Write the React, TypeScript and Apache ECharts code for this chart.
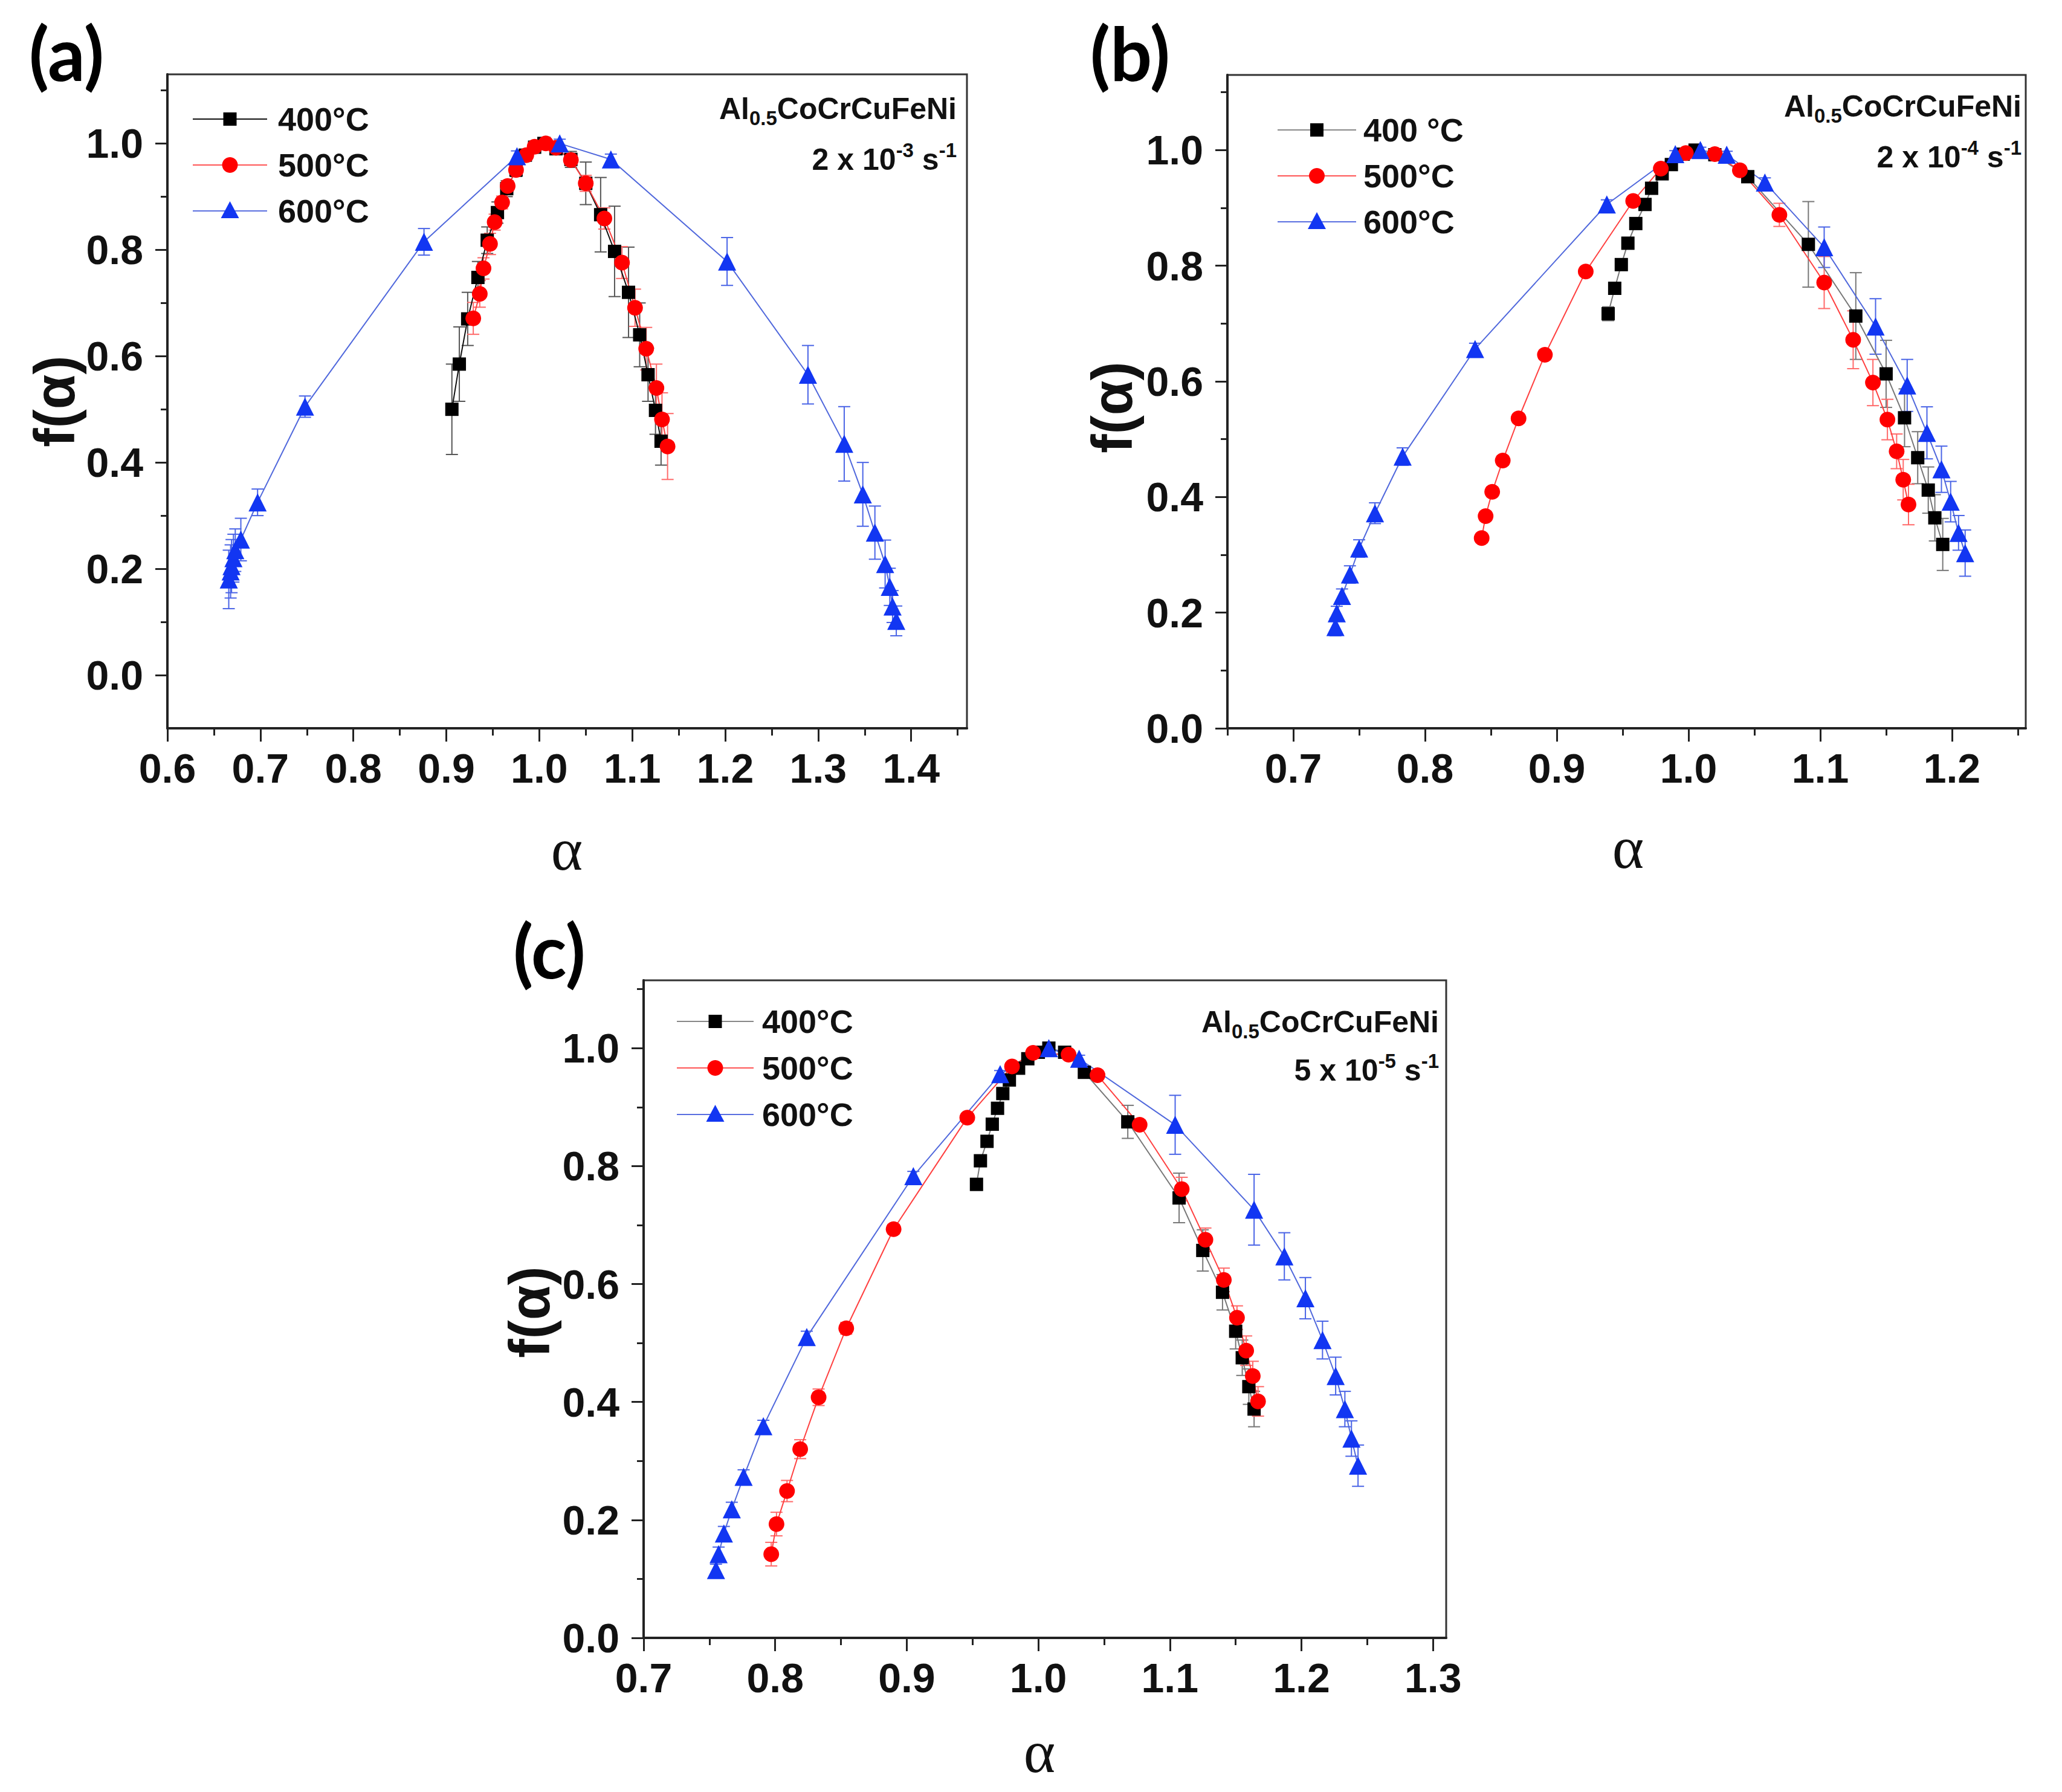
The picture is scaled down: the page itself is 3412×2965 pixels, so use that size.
import React, { useEffect, useRef } from "react";
import * as echarts from "echarts";

// ---------- data: panel (a) 2 x 10^-3 s^-1 ----------
const A_400 = [[0.906,0.500],[0.914,0.585],[0.923,0.670],[0.934,0.748],[0.944,0.818],[0.955,0.870],[0.965,0.915],[0.975,0.950],[0.985,0.978],[0.995,0.993],[1.005,1.000],[1.018,0.990],[1.034,0.970],[1.050,0.925],[1.066,0.866],[1.081,0.797],[1.096,0.720],[1.108,0.640],[1.117,0.565],[1.125,0.498],[1.131,0.440]];
const A_400_ERR = [0.085,0.07,0.05,0.03,0.025,0.02,0.015,0.012,0.01,0.008,0.008,0.01,0.015,0.04,0.07,0.085,0.085,0.06,0.05,0.045,0.045];
const A_500 = [[0.929,0.671],[0.936,0.717],[0.940,0.765],[0.947,0.811],[0.952,0.852],[0.960,0.889],[0.966,0.920],[0.975,0.950],[0.986,0.978],[0.995,0.994],[1.007,1.000],[1.018,0.992],[1.034,0.969],[1.050,0.925],[1.070,0.859],[1.089,0.776],[1.103,0.691],[1.115,0.614],[1.126,0.540],[1.132,0.481],[1.138,0.430]];
const A_500_ERR = [0.03,0.025,0.02,0.02,0.015,0.012,0.01,0.01,0.008,0.006,0.005,0.006,0.01,0.015,0.02,0.03,0.035,0.04,0.045,0.05,0.062];
const A_600 = [[0.666,0.180],[0.668,0.195],[0.669,0.205],[0.671,0.220],[0.673,0.235],[0.679,0.255],[0.697,0.325],[0.748,0.505],[0.876,0.815],[0.976,0.976],[1.022,1.000],[1.077,0.970],[1.202,0.778],[1.289,0.565],[1.328,0.435],[1.348,0.340],[1.361,0.268],[1.372,0.209],[1.377,0.166],[1.380,0.129],[1.384,0.102]];
const A_600_ERR = [0.055,0.05,0.05,0.045,0.04,0.04,0.025,0.02,0.025,0.01,0.008,0.01,0.045,0.055,0.07,0.06,0.05,0.045,0.035,0.03,0.028];

// ---------- data: panel (b) 2 x 10^-4 s^-1 ----------
const B_400 = [[0.939,0.717],[0.944,0.761],[0.949,0.802],[0.954,0.839],[0.960,0.873],[0.967,0.906],[0.972,0.934],[0.980,0.959],[0.987,0.975],[0.996,0.993],[1.005,1.000],[1.020,0.992],[1.045,0.954],[1.091,0.837],[1.127,0.713],[1.150,0.613],[1.164,0.537],[1.174,0.468],[1.182,0.412],[1.187,0.364],[1.193,0.318]];
const B_400_ERR = [0.012,0.01,0.01,0.008,0.008,0.008,0.006,0.006,0.005,0.005,0.005,0.005,0.01,0.074,0.075,0.058,0.05,0.045,0.04,0.04,0.045];
const B_500 = [[0.843,0.329],[0.846,0.367],[0.851,0.409],[0.859,0.463],[0.871,0.536],[0.891,0.646],[0.922,0.790],[0.958,0.912],[0.979,0.968],[0.998,0.995],[1.020,0.993],[1.039,0.965],[1.069,0.888],[1.103,0.771],[1.125,0.672],[1.140,0.598],[1.151,0.534],[1.158,0.479],[1.163,0.430],[1.167,0.387]];
const B_500_ERR = [0.008,0.008,0.008,0.008,0.008,0.008,0.008,0.006,0.006,0.005,0.005,0.006,0.02,0.045,0.05,0.04,0.035,0.03,0.035,0.035];
const B_600 = [[0.732,0.175],[0.733,0.199],[0.737,0.229],[0.743,0.266],[0.750,0.311],[0.762,0.372],[0.783,0.470],[0.838,0.656],[0.938,0.906],[0.990,0.993],[1.009,1.000],[1.029,0.992],[1.058,0.944],[1.103,0.832],[1.142,0.695],[1.166,0.593],[1.181,0.511],[1.192,0.448],[1.199,0.392],[1.205,0.338],[1.210,0.303]];
const B_600_ERR = [0.015,0.012,0.012,0.015,0.015,0.018,0.015,0.01,0.008,0.006,0.005,0.006,0.008,0.035,0.048,0.045,0.045,0.04,0.035,0.03,0.04];

// ---------- data: panel (c) 5 x 10^-5 s^-1 ----------
const C_400 = [[0.953,0.769],[0.956,0.809],[0.961,0.842],[0.965,0.871],[0.969,0.898],[0.973,0.923],[0.978,0.946],[0.985,0.966],[0.992,0.982],[1.000,0.993],[1.008,1.000],[1.020,0.993],[1.035,0.959],[1.068,0.875],[1.107,0.746],[1.125,0.657],[1.140,0.586],[1.150,0.520],[1.155,0.475],[1.160,0.426],[1.164,0.388]];
const C_400_ERR = [0.01,0.008,0.008,0.008,0.008,0.006,0.006,0.005,0.005,0.005,0.005,0.005,0.008,0.028,0.042,0.035,0.03,0.03,0.03,0.03,0.03];
const C_500 = [[0.797,0.142],[0.801,0.193],[0.809,0.249],[0.819,0.320],[0.833,0.408],[0.854,0.525],[0.890,0.693],[0.946,0.882],[0.980,0.969],[0.996,0.992],[1.023,0.989],[1.045,0.954],[1.077,0.870],[1.109,0.761],[1.127,0.675],[1.141,0.607],[1.151,0.543],[1.158,0.487],[1.163,0.444],[1.167,0.401]];
const C_500_ERR = [0.02,0.02,0.018,0.016,0.014,0.01,0.008,0.006,0.005,0.005,0.005,0.006,0.008,0.02,0.02,0.02,0.02,0.025,0.025,0.025];
const C_600 = [[0.755,0.115],[0.757,0.142],[0.761,0.177],[0.767,0.218],[0.776,0.273],[0.791,0.359],[0.824,0.510],[0.905,0.783],[0.971,0.956],[1.008,1.000],[1.031,0.982],[1.104,0.870],[1.164,0.726],[1.187,0.647],[1.203,0.576],[1.216,0.505],[1.226,0.444],[1.233,0.388],[1.238,0.338],[1.243,0.292]];
const C_600_ERR = [0.01,0.012,0.012,0.012,0.012,0.01,0.01,0.008,0.006,0.005,0.006,0.05,0.06,0.04,0.035,0.032,0.032,0.03,0.03,0.035];

// ---------- axes ----------
const A_X_MAJOR = [0.6,0.7,0.8,0.9,1.0,1.1,1.2,1.3,1.4];
const A_X_MINOR = [0.65,0.75,0.85,0.95,1.05,1.15,1.25,1.35,1.45];
const B_X_MAJOR = [0.7,0.8,0.9,1.0,1.1,1.2];
const B_X_MINOR = [0.65,0.75,0.85,0.95,1.05,1.15,1.25];
const C_X_MAJOR = [0.7,0.8,0.9,1.0,1.1,1.2,1.3];
const C_X_MINOR = [0.75,0.85,0.95,1.05,1.15,1.25];
const Y_MAJOR = [0.0,0.2,0.4,0.6,0.8,1.0];
const Y_MINOR = [0.1,0.3,0.5,0.7,0.9,1.1];

const LEGEND_A = ["400°C","500°C","600°C"];
const LEGEND_B = ["400 °C","500°C","600°C"];
const LEGEND_C = ["400°C","500°C","600°C"];
const RATES = [["2 x 10","-3"],["2 x 10","-4"],["5 x 10","-5"]];

const SANS = "Liberation Sans, Arial, sans-serif";
const BLACK = "#000000";
const RED = "#ff0000";
const BLUE = "#1236f2";

const panels = [
  { grid: { left: 277, top: 123, width: 1323, height: 1082 }, xMin: 0.6, xMax: 1.46, yMin: -0.1, yMax: 1.13,
    xMajor: A_X_MAJOR, xMinor: A_X_MINOR,
    s400: A_400, e400: A_400_ERR, s500: A_500, e500: A_500_ERR, s600: A_600, e600: A_600_ERR, blackLine: "#111111", blackErr: "#555555" },
  { grid: { left: 2031, top: 124, width: 1321, height: 1081 }, xMin: 0.65, xMax: 1.256, yMin: 0, yMax: 1.13,
    xMajor: B_X_MAJOR, xMinor: B_X_MINOR,
    s400: B_400, e400: B_400_ERR, s500: B_500, e500: B_500_ERR, s600: B_600, e600: B_600_ERR, blackLine: "#777777", blackErr: "#777777" },
  { grid: { left: 1065, top: 1622, width: 1328, height: 1088 }, xMin: 0.7, xMax: 1.31, yMin: 0, yMax: 1.115,
    xMajor: C_X_MAJOR, xMinor: C_X_MINOR,
    s400: C_400, e400: C_400_ERR, s500: C_500, e500: C_500_ERR, s600: C_600, e600: C_600_ERR, blackLine: "#777777", blackErr: "#777777" },
];

function errSeries(pts: number[][], err: number[], color: string, gi: number) {
  return {
    type: "custom",
    xAxisIndex: gi * 2,
    yAxisIndex: gi * 2,
    silent: true,
    z: 2,
    encode: { x: 0, y: [1, 2] },
    data: pts.map((p, k) => [p[0], p[1] - err[k], p[1] + err[k]]),
    renderItem: (params: any, api: any) => {
      const x = api.value(0);
      const p1 = api.coord([x, api.value(1)]);
      const p2 = api.coord([x, api.value(2)]);
      const cw = 10;
      const st = { stroke: color, lineWidth: 2 };
      return {
        type: "group",
        children: [
          { type: "line", shape: { x1: p1[0], y1: p1[1], x2: p2[0], y2: p2[1] }, style: st },
          { type: "line", shape: { x1: p1[0] - cw, y1: p1[1], x2: p1[0] + cw, y2: p1[1] }, style: st },
          { type: "line", shape: { x1: p2[0] - cw, y1: p2[1], x2: p2[0] + cw, y2: p2[1] }, style: st },
        ],
      };
    },
  };
}

function lineSeries(name: string, pts: number[][], symbol: string, size: number, color: string, lineColor: string, gi: number) {
  return {
    type: "line",
    name,
    xAxisIndex: gi * 2,
    yAxisIndex: gi * 2,
    data: pts,
    symbol,
    symbolSize: size,
    z: 3,
    itemStyle: { color, opacity: 1 },
    lineStyle: { color: lineColor, width: 2 },
    emphasis: { disabled: true },
  };
}

function legendGraphics(x1: number, x2: number, tx: number, rows: number[], labels: string[], blackLine: string) {
  const cx = (x1 + x2) / 2;
  const out: any[] = [];
  const lineCols = [blackLine, "#ff5555", "#5a6fe0"];
  rows.forEach((cy, i) => {
    out.push({ type: "line", shape: { x1, y1: cy, x2, y2: cy }, style: { stroke: lineCols[i], lineWidth: 2 } });
    if (i === 0) out.push({ type: "rect", shape: { x: cx - 11, y: cy - 11, width: 22, height: 22 }, style: { fill: BLACK } });
    if (i === 1) out.push({ type: "circle", shape: { cx, cy, r: 13 }, style: { fill: RED } });
    if (i === 2) out.push({ type: "polygon", shape: { points: [[cx, cy - 16], [cx + 15, cy + 12], [cx - 15, cy + 12]] }, style: { fill: BLUE } });
    out.push({ type: "text", x: tx, y: cy, style: { text: labels[i], fontSize: 54, fontWeight: "bold", fontFamily: SANS, fill: "#111", align: "left", verticalAlign: "middle" } });
  });
  return out;
}

function annotation(rx: number, y1: number, y2: number, rate: string[]) {
  const base = { fontSize: 50, fontWeight: "bold", fontFamily: SANS, fill: "#111", lineHeight: 64 };
  const small = { fontSize: 33, fontWeight: "bold", fontFamily: SANS, fill: "#111", lineHeight: 30 };
  return [
    { type: "text", x: rx, y: y1, style: { text: "{b|Al}{s|0.5}{b|CoCrCuFeNi}", align: "right", verticalAlign: "middle",
      rich: { b: base, s: { ...small, verticalAlign: "bottom" } } } },
    { type: "text", x: rx, y: y2, style: { text: `{b|${rate[0]}}{p|${rate[1]}}{b| s}{p|-1}`, align: "right", verticalAlign: "middle",
      rich: { b: base, p: { ...small, verticalAlign: "top" } } } },
  ];
}

function buildOption() {
  const grid: any[] = [];
  const xAxis: any[] = [];
  const yAxis: any[] = [];
  const series: any[] = [];
  const tickLabel = { fontSize: 68, fontWeight: "bold", fontFamily: SANS, color: "#111" };
  panels.forEach((p, gi) => {
    grid.push({ ...p.grid, show: true, borderColor: "#333", borderWidth: 3, containLabel: false });
    xAxis.push({
      type: "value", gridIndex: gi, min: p.xMin, max: p.xMax, position: "bottom",
      axisLine: { show: true, onZero: false, lineStyle: { color: "#222", width: 4 } },
      axisTick: { show: true, length: 22, customValues: p.xMajor, lineStyle: { color: "#222", width: 3 } },
      axisLabel: { show: true, customValues: p.xMajor, margin: 32, formatter: (v: number) => v.toFixed(1), ...tickLabel },
      splitLine: { show: false },
    });
    xAxis.push({
      type: "value", gridIndex: gi, min: p.xMin, max: p.xMax, position: "bottom",
      axisLine: { show: false, onZero: false },
      axisTick: { show: true, length: 12, customValues: p.xMinor, lineStyle: { color: "#222", width: 3 } },
      axisLabel: { show: false },
      splitLine: { show: false },
    });
    yAxis.push({
      type: "value", gridIndex: gi, min: p.yMin, max: p.yMax, position: "left",
      axisLine: { show: true, onZero: false, lineStyle: { color: "#222", width: 4 } },
      axisTick: { show: true, length: 20, customValues: Y_MAJOR, lineStyle: { color: "#222", width: 3 } },
      axisLabel: { show: true, customValues: Y_MAJOR, margin: 40, formatter: (v: number) => v.toFixed(1), ...tickLabel },
      splitLine: { show: false },
    });
    yAxis.push({
      type: "value", gridIndex: gi, min: p.yMin, max: p.yMax, position: "left",
      axisLine: { show: false, onZero: false },
      axisTick: { show: true, length: 11, customValues: Y_MINOR, lineStyle: { color: "#222", width: 3 } },
      axisLabel: { show: false },
      splitLine: { show: false },
    });
    const names = gi === 1 ? LEGEND_B : gi === 0 ? LEGEND_A : LEGEND_C;
    series.push(errSeries(p.s400, p.e400, p.blackErr, gi));
    series.push(lineSeries(names[0], p.s400, "rect", 22, BLACK, p.blackLine, gi));
    series.push(errSeries(p.s500, p.e500, "#ff6a6a", gi));
    series.push(lineSeries(names[1], p.s500, "circle", 26, RED, "#ff4040", gi));
    series.push(errSeries(p.s600, p.e600, "#4a64e6", gi));
    series.push(lineSeries(names[2], p.s600, "triangle", 30, BLUE, "#5068dc", gi));
  });

  const panelLabel = (t: string, x: number, y: number) => ({
    type: "text", x, y, style: { text: t, fontSize: 122, fontWeight: "bold", fontFamily: "Lato, Open Sans, sans-serif", fill: "#000", align: "center", verticalAlign: "middle" },
  });
  const yTitle = (x: number, y: number) => ({
    type: "text", x, y, rotation: Math.PI / 2,
    style: { text: "f(α)", fontSize: 94, fontWeight: "bold", fontFamily: SANS, fill: "#111", align: "center", verticalAlign: "middle" },
  });
  const xTitle = (x: number, y: number) => ({
    type: "text", x, y,
    style: { text: "α", fontSize: 100, fontFamily: "Liberation Serif, Times New Roman, serif", fill: "#111", align: "center", verticalAlign: "middle" },
  });

  const graphic: any[] = [
    panelLabel("(a)", 110, 87),
    panelLabel("(b)", 1870, 87),
    panelLabel("(c)", 909, 1572),
    yTitle(90, 664),
    yTitle(1840, 674),
    yTitle(876, 2171),
    xTitle(938, 1405),
    xTitle(2694, 1402),
    xTitle(1720, 2898),
    ...legendGraphics(319, 442, 460, [197, 273, 349], LEGEND_A, "#111111"),
    ...legendGraphics(2114, 2244, 2256, [215, 291, 367], LEGEND_B, "#888888"),
    ...legendGraphics(1120, 1247, 1261, [1690, 1767, 1844], LEGEND_C, "#888888"),
    ...annotation(1583, 180, 264, RATES[0]),
    ...annotation(3345, 176, 260, RATES[1]),
    ...annotation(2381, 1691, 1771, RATES[2]),
  ];

  return { animation: false, backgroundColor: "#ffffff", grid, xAxis, yAxis, series, graphic };
}

export default function App() {
  const ref = useRef<HTMLDivElement>(null);
  useEffect(() => {
    document.body.style.margin = "0";
    if (!ref.current) return;
    const chart = echarts.init(ref.current, undefined, { renderer: "svg" });
    chart.setOption(buildOption() as any);
    return () => chart.dispose();
  }, []);
  return <div ref={ref} style={{ width: 3412, height: 2965 }} />;
}
